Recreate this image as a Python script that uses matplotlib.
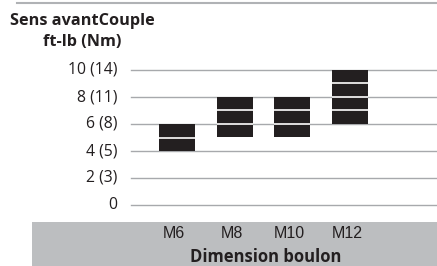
import matplotlib
matplotlib.use("Agg")
import matplotlib.pyplot as plt
from matplotlib.lines import Line2D
from matplotlib.patches import Rectangle

categories = ["M6", "M8", "M10", "M12"]
bar_bottom = [4, 5, 5, 6]
bar_top = [6, 8, 8, 10]
ytick_vals = [0, 2, 4, 6, 8, 10]
ytick_labels = ["0", "2 (3)", "4 (5)", "6 (8)", "8 (11)", "10 (14)"]
title_line1 = "Sens avantCouple"
title_line2 = "ft-lb (Nm)"
xlabel = "Dimension boulon"

W, H = 437, 266
fig = plt.figure(figsize=(W / 100, H / 100), dpi=100)
fig.patch.set_facecolor("white")

def fx(px):
    return px / W

def fy(py):
    return 1 - py / H

TXT = "#231f20"

# gray band at bottom
fig.add_artist(Rectangle((fx(32), 0), 1 - fx(32), fy(222), transform=fig.transFigure,
                         facecolor="#bcbec0", edgecolor="none", zorder=0))
# top rule
fig.add_artist(Line2D([fx(17), 1], [fy(3), fy(3)], transform=fig.transFigure,
                      color="#b0b2b5", lw=1.5))

ax_left, ax_right = 131, 437
ax_top, ax_bot = 70, 205
ax = fig.add_axes([fx(ax_left), fy(ax_bot), fx(ax_right - ax_left), (ax_bot - ax_top) / H])
ax.set_ylim(0, 10)
spacing = 57.7
x0 = (177 - ax_left) / spacing
ax.set_xlim(-x0, -x0 + (ax_right - ax_left) / spacing)
ax.axis("off")

for v in ytick_vals:
    ax.axhline(v, color="#a7a9ac", lw=1.0, zorder=1, clip_on=False)

for v, lab in zip(ytick_vals, ytick_labels):
    fig.text(fx(117), fy(ax_bot - v * (ax_bot - ax_top) / 10), lab, ha="right", va="center",
             fontsize=11.3, family="Open Sans", color=TXT)

xs = list(range(len(categories)))
heights = [t - b for t, b in zip(bar_top, bar_bottom)]
width = 36 / spacing
ax.bar(xs, heights, bottom=bar_bottom, width=width, color="#231f20", zorder=2, clip_on=False)
for x, b, t in zip(xs, bar_bottom, bar_top):
    for v in range(b + 1, t):
        ax.hlines(v, x - width / 2, x + width / 2, color="white", lw=1.2, zorder=3)

fig.canvas.draw()
for x, c in zip(xs, categories):
    xp = ax.transData.transform((x, 0))[0]
    fig.text((xp - 3) / W, fy(234), c, ha="center", va="center",
             fontsize=11.5, family="Liberation Sans", color=TXT)

fig.text(fx(266), fy(257), xlabel, ha="center", va="center", fontsize=12,
         family="Open Sans", fontweight="bold", color=TXT)

fig.text(fx(10), fy(21), title_line1, ha="left", va="center", fontsize=11.7,
         family="Open Sans", fontweight="bold", color=TXT)
fig.text(fx(82.5), fy(42), title_line2, ha="center", va="center", fontsize=11.7,
         family="Open Sans", fontweight="bold", color=TXT)

fig.savefig("out.png", dpi=100)
